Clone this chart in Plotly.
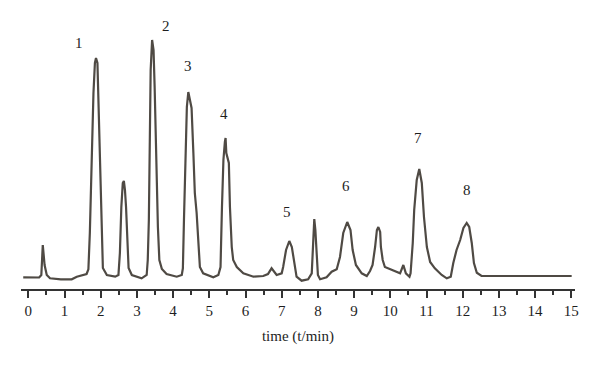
import plotly.graph_objects as go

# Chromatogram trace (time in min, signal in arbitrary units)
time_min = [
    -0.14, 0.30, 0.36, 0.40, 0.45, 0.51, 0.60, 0.90, 1.20, 1.34, 1.61,
    1.66, 1.70, 1.75, 1.80, 1.84, 1.87, 1.91, 1.94, 1.98, 2.02, 2.06, 2.17, 2.40,
    2.49, 2.53, 2.57, 2.61, 2.64, 2.67, 2.70, 2.74, 2.77, 2.86, 3.13, 3.27,
    3.30, 3.33, 3.35, 3.38, 3.42, 3.46, 3.49, 3.52, 3.55, 3.58, 3.62, 3.69, 3.82, 4.10, 4.24,
    4.27, 4.30, 4.34, 4.38, 4.42, 4.47, 4.51, 4.56, 4.60, 4.65, 4.70, 4.74, 4.83, 5.11, 5.25,
    5.31, 5.35, 5.39, 5.43, 5.45, 5.47, 5.54, 5.57, 5.62, 5.66, 5.76, 5.94, 6.22, 6.49,
    6.62, 6.72, 6.86, 7.00,
    7.04, 7.12, 7.21, 7.28, 7.34, 7.41, 7.55, 7.73,
    7.83, 7.86, 7.88, 7.90, 7.93, 7.96, 8.00, 8.06, 8.24, 8.38, 8.52,
    8.61, 8.70, 8.81, 8.90, 8.96, 9.05, 9.21, 9.35, 9.44,
    9.51, 9.58, 9.63, 9.67, 9.72, 9.74, 9.79, 9.85, 9.99, 10.18, 10.27,
    10.36, 10.43, 10.53,
    10.56, 10.62, 10.66, 10.73, 10.80, 10.87, 10.93, 11.01, 11.10, 11.23, 11.42, 11.56, 11.67,
    11.74, 11.83, 11.93, 12.02, 12.11, 12.18, 12.25, 12.31, 12.39, 12.52, 15.01,
]
signal = [
    1.7, 1.5, 4.0, 34.0, 14.0, 4.0, 0.7, -0.3, -0.3, 2.3, 5.0,
    9.7, 46.0, 119.0, 186.0, 216.0, 221.0, 216.0, 172.0, 109.0, 42.0, 11.0, 4.0, 2.3,
    4.0, 26.0, 72.0, 96.0, 98.0, 89.0, 72.0, 32.0, 11.0, 4.0, 0.7, 4.0,
    19.0, 59.0, 126.0, 209.0, 239.0, 229.0, 192.0, 142.0, 99.0, 52.0, 19.0, 10.0, 5.0, 2.3, 4.0,
    10.7, 59.0, 126.0, 172.0, 187.0, 179.0, 171.0, 126.0, 86.0, 66.0, 39.0, 12.0, 5.7, 1.7, 4.0,
    12.0, 72.0, 119.0, 137.0, 141.0, 126.0, 116.0, 72.0, 32.0, 19.0, 12.0, 5.7, 2.3, 3.0,
    5.0, 10.7, 4.0, 5.7,
    12.0, 29.0, 38.0, 32.0, 16.0, 2.3, -1.7, -0.3,
    5.7, 29.0, 52.0, 60.0, 49.0, 26.0, 4.0, -0.3, 1.7, 7.3, 9.7,
    22.0, 46.0, 57.0, 49.0, 29.0, 14.0, 5.7, 3.0, 8.0,
    14.0, 32.0, 49.0, 52.0, 47.0, 32.0, 19.0, 12.0, 10.0, 7.3, 5.7,
    14.0, 5.7, 2.3,
    5.7, 36.0, 69.0, 99.0, 110.0, 96.0, 62.0, 32.0, 17.0, 10.7, 4.0, 0.7, 2.3,
    16.0, 29.0, 39.0, 51.0, 56.0, 52.0, 36.0, 16.0, 6.3, 3.0, 3.0,
]

# Peak labels
peak_names = ["1", "2", "3", "4", "5", "6", "7", "8"]
peak_label_t = [1.40, 3.80, 4.40, 5.41, 7.15, 8.78, 10.76, 12.11]
peak_label_s = [235.7, 253.0, 213.3, 165.0, 67.3, 93.0, 141.3, 89.0]

tick_vals = list(range(0, 16))
tick_text = [str(v) for v in tick_vals]

FONT = "Liberation Serif"
TXT = "#1e1e1e"

fig = go.Figure()
fig.add_trace(go.Scatter(
    x=time_min, y=signal, mode="lines",
    line=dict(color="#4f4a44", width=2.2),
    hoverinfo="skip", showlegend=False,
))

for name, t, s in zip(peak_names, peak_label_t, peak_label_s):
    fig.add_annotation(x=t, y=s, text=name, showarrow=False,
                       font=dict(family=FONT, size=15, color=TXT))

fig.update_layout(
    width=592, height=357,
    margin=dict(l=13, r=25, t=8, b=76, autoexpand=False),
    paper_bgcolor="white", plot_bgcolor="white",
    font=dict(family=FONT, size=15, color=TXT),
    xaxis=dict(
        range=[-0.2017, 15.102], automargin=False,
        showgrid=False, zeroline=False,
        showline=True, linecolor="#333333", linewidth=2,
        ticks="outside", ticklen=7, tickwidth=1.5, tickcolor="#333333",
        tickvals=tick_vals, ticktext=tick_text,
        tickfont=dict(family=FONT, size=15, color=TXT),
        minor=dict(dtick=0.5, tick0=0, ticks="outside", ticklen=4,
                   tickwidth=1.5, tickcolor="#333333", showgrid=False),
        title=dict(text="time (t/min)", standoff=12,
                   font=dict(family=FONT, size=15, color=TXT)),
    ),
    yaxis=dict(
        range=[-10, 263], visible=False, automargin=False,
    ),
)

fig.write_html("out.html")
